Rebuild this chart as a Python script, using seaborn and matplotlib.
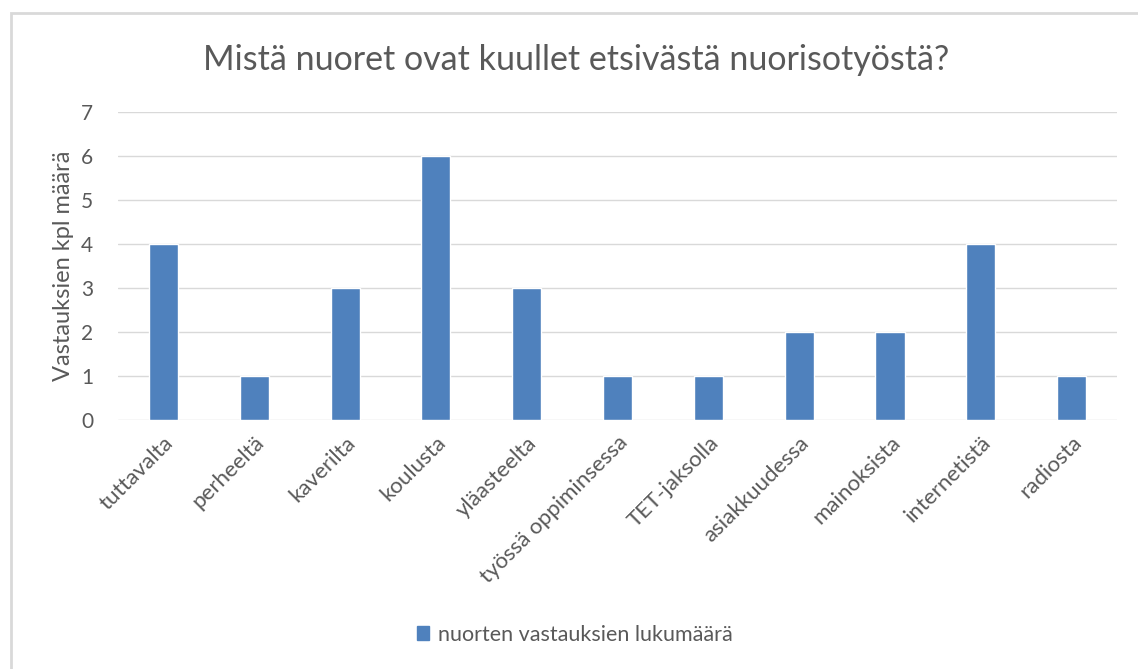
import pandas as pd
import matplotlib.pyplot as plt
import seaborn as sns
from matplotlib.patches import Rectangle, Patch

categories = ['tuttavalta', 'perheeltä', 'kaverilta', 'koulusta', 'yläasteelta',
              'työssä oppiminsessa', 'TET-jaksolla', 'asiakkuudessa', 'mainoksista',
              'internetistä', 'radiosta']
counts = [4, 1, 3, 6, 3, 1, 1, 2, 2, 4, 1]
series_name = 'nuorten vastauksien lukumäärä'

df = pd.DataFrame({'lahde': categories, 'maara': counts})

sns.set_theme(style="white")
plt.rcParams['font.family'] = ['Lato', 'DejaVu Sans']
grey = '#595959'
blue = '#4F81BD'

fig = plt.figure(figsize=(11.38, 6.69), dpi=100)
ax = fig.add_axes([0.1037, 0.3722, 0.8779, 0.4604])

sns.barplot(data=df, x='lahde', y='maara', color=blue, width=0.32,
            saturation=1, ax=ax)

ax.set_ylim(0, 7)
ax.set_yticks(range(0, 8))
ax.set_xlim(-0.5, len(categories) - 0.5)
ax.yaxis.grid(True, color='#D9D9D9', linewidth=1)
ax.set_axisbelow(True)
for s in ax.spines.values():
    s.set_visible(False)
ax.tick_params(axis='both', length=0, colors=grey)
ax.tick_params(axis='y', pad=18, labelsize=15)
ax.tick_params(axis='x', pad=9, labelsize=16)
ax.set_xticks(range(len(categories)))
ax.set_xticklabels(categories, rotation=45, ha='right', rotation_mode='anchor')
ax.set_xlabel('')
ax.set_ylabel('Vastauksien kpl määrä', color=grey, fontsize=17, labelpad=5)

fig.text(0.506, 0.91, 'Mistä nuoret ovat kuullet etsivästä nuorisotyöstä?',
         ha='center', va='center', fontsize=24.5, color=grey)

fig.legend(handles=[Patch(color=blue, label=series_name)], loc='center',
           bbox_to_anchor=(0.505, 0.051), frameon=False, fontsize=15.5,
           labelcolor=grey, handlelength=0.6, handleheight=0.6, handletextpad=0.4)

fig.patches.append(Rectangle((11 / 1138, -0.1), 1.2, 1 - 13 / 669 + 0.1,
                             transform=fig.transFigure, fill=False,
                             edgecolor='#D9D9D9', linewidth=2))

fig.savefig('out.png', dpi=100)
